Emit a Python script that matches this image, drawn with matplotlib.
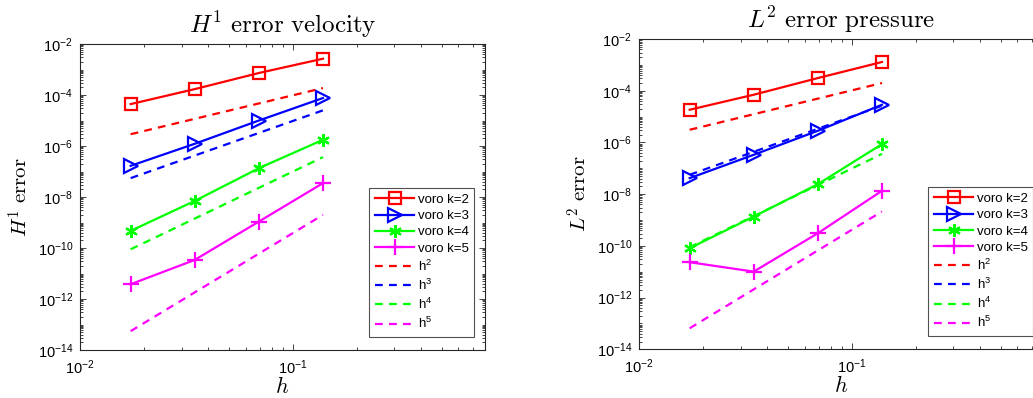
import numpy as np
import matplotlib
matplotlib.use('Agg')
import matplotlib.pyplot as plt
from matplotlib.ticker import LogLocator, FixedLocator, NullFormatter

plt.rcParams['font.family'] = ['Liberation Sans', 'DejaVu Sans']
plt.rcParams['mathtext.fontset'] = 'custom'
plt.rcParams['mathtext.rm'] = 'Liberation Sans'
plt.rcParams['mathtext.it'] = 'Liberation Sans:italic'
plt.rcParams['mathtext.bf'] = 'Liberation Sans:bold'

# mesh sizes
h = [0.0173, 0.0346, 0.0693, 0.1386]

# H1 velocity error
vel_k2 = [4.4e-5, 1.7e-4, 7.3e-4, 2.65e-3]
vel_k3 = [1.67e-7, 1.22e-6, 1.0e-5, 7.6e-5]
vel_k4 = [4.7e-10, 7.0e-9, 1.35e-7, 1.75e-6]
vel_k5 = [3.8e-12, 3.4e-11, 1.09e-9, 3.5e-8]
vel_h2 = [2.9e-6, 1.87e-4]
vel_h3 = [5.5e-8, 2.5e-5]
vel_h4 = [8.9e-11, 3.66e-7]
vel_h5 = [5.5e-14, 1.99e-9]

# L2 pressure error
pre_k2 = [1.84e-5, 7.0e-5, 3.09e-4, 1.29e-3]
pre_k3 = [4.16e-8, 3.33e-7, 2.83e-6, 2.87e-5]
pre_k4 = [8.1e-11, 1.36e-9, 2.44e-8, 8.6e-7]
pre_k5 = [2.33e-11, 1.01e-11, 3.09e-10, 1.35e-8]
pre_h2 = [3.09e-6, 1.98e-4]
pre_h3 = [5.6e-8, 2.63e-5]
pre_h4 = [8.9e-11, 3.6e-7]
pre_h5 = [6.5e-14, 2.14e-9]

colors = ['#ff0000', '#0000ff', '#00ff00', '#ff00ff']
markers = ['s', '>', (6, 2, 0), '+']
msizes = [8, 10, 9, 11]
labels = ['voro k=2', 'voro k=3', 'voro k=4', 'voro k=5',
          'h$^2$', 'h$^3$', 'h$^4$', 'h$^5$']
xticks = [0.01, 0.1]
yticks = [1e-14, 1e-12, 1e-10, 1e-8, 1e-6, 1e-4, 1e-2]


def panel(ax, curves, refs, title, ylabel):
    for y, c, m, ms in zip(curves, colors, markers, msizes):
        ax.plot(h, y, '-', color=c, lw=1.6, marker=m, ms=ms,
                mfc='none', mec=c, mew=1.6)
    for y, c in zip(refs, colors):
        ax.plot([h[0], h[-1]], y, color=c, lw=1.6, linestyle=(0, (3.5, 2.8)))
    ax.set_xscale('log')
    ax.set_yscale('log')
    ax.set_xlim(0.01, 0.8)
    ax.set_ylim(1e-14, 1e-2)
    ax.yaxis.set_major_locator(FixedLocator(yticks))
    ax.yaxis.set_minor_locator(LogLocator(base=10, subs=np.arange(1, 10), numticks=100))
    ax.yaxis.set_minor_formatter(NullFormatter())
    ax.xaxis.set_major_locator(FixedLocator(xticks))
    ax.xaxis.set_minor_locator(LogLocator(base=10, subs=np.arange(2, 10), numticks=100))
    ax.xaxis.set_minor_formatter(NullFormatter())
    ax.tick_params(which='both', direction='in', top=True, right=True,
                   labelsize=10.5, width=0.6, color='#262626')
    ax.tick_params(which='major', length=4)
    ax.tick_params(which='minor', length=2.5)
    ax.tick_params(axis='x', which='major', pad=6)
    ax.tick_params(axis='y', which='major', pad=5)
    for s in ax.spines.values():
        s.set_linewidth(0.8)
        s.set_color('#262626')
    ax.set_title(title, fontsize=18, math_fontfamily='cm', pad=8)
    ax.set_ylabel(ylabel, fontsize=15, math_fontfamily='cm', labelpad=4)
    ax.set_xlabel('$h$', fontsize=16, math_fontfamily='cm', labelpad=0)
    leg = ax.legend(labels, loc='lower right', bbox_to_anchor=(0.974, 0.042),
                    fontsize=9.5, frameon=True, fancybox=False, borderpad=0.45,
                    handlelength=2.9, handletextpad=0.3, labelspacing=0.3,
                    borderaxespad=0)
    leg.get_frame().set_edgecolor('#262626')
    leg.get_frame().set_linewidth(0.8)


fig = plt.figure(figsize=(10.33, 3.98), dpi=100)
ax1 = fig.add_axes([80 / 1033, 48 / 398, 405 / 1033, 306 / 398])
ax2 = fig.add_axes([639 / 1033, 48.7 / 398, 405 / 1033, 310.3 / 398])

panel(ax1, [vel_k2, vel_k3, vel_k4, vel_k5], [vel_h2, vel_h3, vel_h4, vel_h5],
      r'$H^1\ \mathrm{error\ velocity}$', r'$H^1\ \mathrm{error}$')
panel(ax2, [pre_k2, pre_k3, pre_k4, pre_k5], [pre_h2, pre_h3, pre_h4, pre_h5],
      r'$L^2\ \mathrm{error\ pressure}$', r'$L^2\ \mathrm{error}$')

fig.savefig('out.png', dpi=100)
